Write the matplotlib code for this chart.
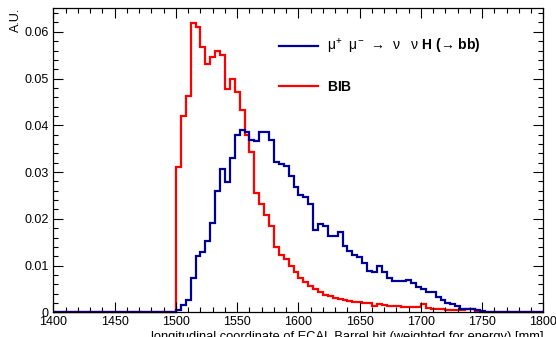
import matplotlib
matplotlib.use("Agg")
import matplotlib.pyplot as plt
from matplotlib.lines import Line2D
from matplotlib.ticker import MultipleLocator
import numpy as np

plt.rcParams['font.family'] = ['Liberation Sans', 'DejaVu Sans']
plt.rcParams['mathtext.fontset'] = 'custom'
plt.rcParams['mathtext.rm'] = 'Liberation Sans'
plt.rcParams['mathtext.bf'] = 'Liberation Sans:bold'
plt.rcParams['mathtext.it'] = 'Liberation Sans'

# histogram binning: 100 bins of 4 mm from 1400 to 1800
bin_edges = np.arange(1400, 1801, 4)

# BIB (red), bins from 1400 mm
bib = [0.0] * 25 + [
    0.0311, 0.0420, 0.0463, 0.0618, 0.0611, 0.0568, 0.0532, 0.0547,
    0.0560, 0.0550, 0.0478, 0.0500, 0.0472, 0.0433, 0.0380, 0.0343,
    0.0256, 0.0232, 0.0208, 0.0185, 0.0140, 0.0123, 0.0114, 0.0099,
    0.0086, 0.0074, 0.0064, 0.0056, 0.0049, 0.0043, 0.0038, 0.0034,
    0.0031, 0.0028, 0.0026, 0.0024, 0.0023, 0.0022, 0.0020, 0.0019,
    0.0014, 0.0017, 0.0016, 0.0014, 0.0014, 0.0013, 0.0011, 0.0011,
    0.0011, 0.0012, 0.0018, 0.0010, 0.0007, 0.0006, 0.0006, 0.0005,
    0.0004, 0.0004, 0.0004, 0.0006, 0.0006, 0.0003,
] + [0.0] * 13

# mu+ mu- -> nu nu H(->bb) (blue), bins from 1400 mm
signal = [0.0] * 25 + [
    0.0005, 0.0015, 0.0027, 0.0073, 0.0120, 0.0128, 0.0153, 0.0191,
    0.0259, 0.0306, 0.0278, 0.0330, 0.0380, 0.0391, 0.0385, 0.0369,
    0.0366, 0.0386, 0.0386, 0.0369, 0.0321, 0.0318, 0.0313, 0.0292,
    0.0267, 0.0252, 0.0246, 0.0232, 0.0177, 0.0188, 0.0185, 0.0163,
    0.0164, 0.0171, 0.0141, 0.0132, 0.0123, 0.0118, 0.0106, 0.0088,
    0.0086, 0.0100, 0.0086, 0.0074, 0.0067, 0.0067, 0.0067, 0.0069,
    0.0062, 0.0055, 0.0049, 0.0043, 0.0043, 0.0033, 0.0027, 0.0020,
    0.0017, 0.0013, 0.0006, 0.0008, 0.0006, 0.0005, 0.0003,
] + [0.0] * 12

x_ticks = [1400, 1450, 1500, 1550, 1600, 1650, 1700, 1750, 1800]
y_ticks = [0, 0.01, 0.02, 0.03, 0.04, 0.05, 0.06]
y_tick_labels = ['0', '0.01', '0.02', '0.03', '0.04', '0.05', '0.06']

sig_label = 'μ$^{+}$  μ$^{-}$  →  ν   ν $\\mathbf{H\\ (}$→$\\mathbf{\\ bb)}$'
bib_label = r'$\mathbf{BIB}$'

fig = plt.figure(figsize=(5.56, 3.37), dpi=100)
ax = fig.add_axes([0.0962, 0.0733, 0.8813, 0.903])

ax.stairs(bib, bin_edges, color='#ff0000', linewidth=1.6, clip_on=False)
ax.stairs(signal, bin_edges, color='#000099', linewidth=1.6, clip_on=False)

ax.set_xlim(1400, 1800)
ax.set_ylim(0, 0.0651)
ax.set_xticks(x_ticks)
ax.set_yticks(y_ticks)
ax.set_yticklabels(y_tick_labels)
ax.xaxis.set_minor_locator(MultipleLocator(10))
ax.yaxis.set_minor_locator(MultipleLocator(0.002))
ax.tick_params(which='both', direction='in', top=True, right=True,
               labelsize=9, width=0.8)
ax.tick_params(which='major', length=7)
ax.tick_params(which='minor', length=3.5)
ax.tick_params(axis='x', pad=3)
for s in ax.spines.values():
    s.set_linewidth(0.9)

ax.set_xlabel('longitudinal coordinate of ECAL Barrel hit (weighted for energy) [mm]',
              loc='right', fontsize=9.3, labelpad=2)
ax.set_ylabel('A.U.', loc='top', fontsize=9, labelpad=2)

handles = [Line2D([], [], color='#000099', linewidth=1.6),
           Line2D([], [], color='#ff0000', linewidth=1.6)]
ax.legend(handles, [sig_label, bib_label], loc='upper left',
          bbox_to_anchor=(0.46, 0.905), frameon=False, fontsize=10,
          handlelength=2.8, handletextpad=0.7, labelspacing=1.75,
          borderpad=0, borderaxespad=0)

fig.savefig('out.png', dpi=100)
